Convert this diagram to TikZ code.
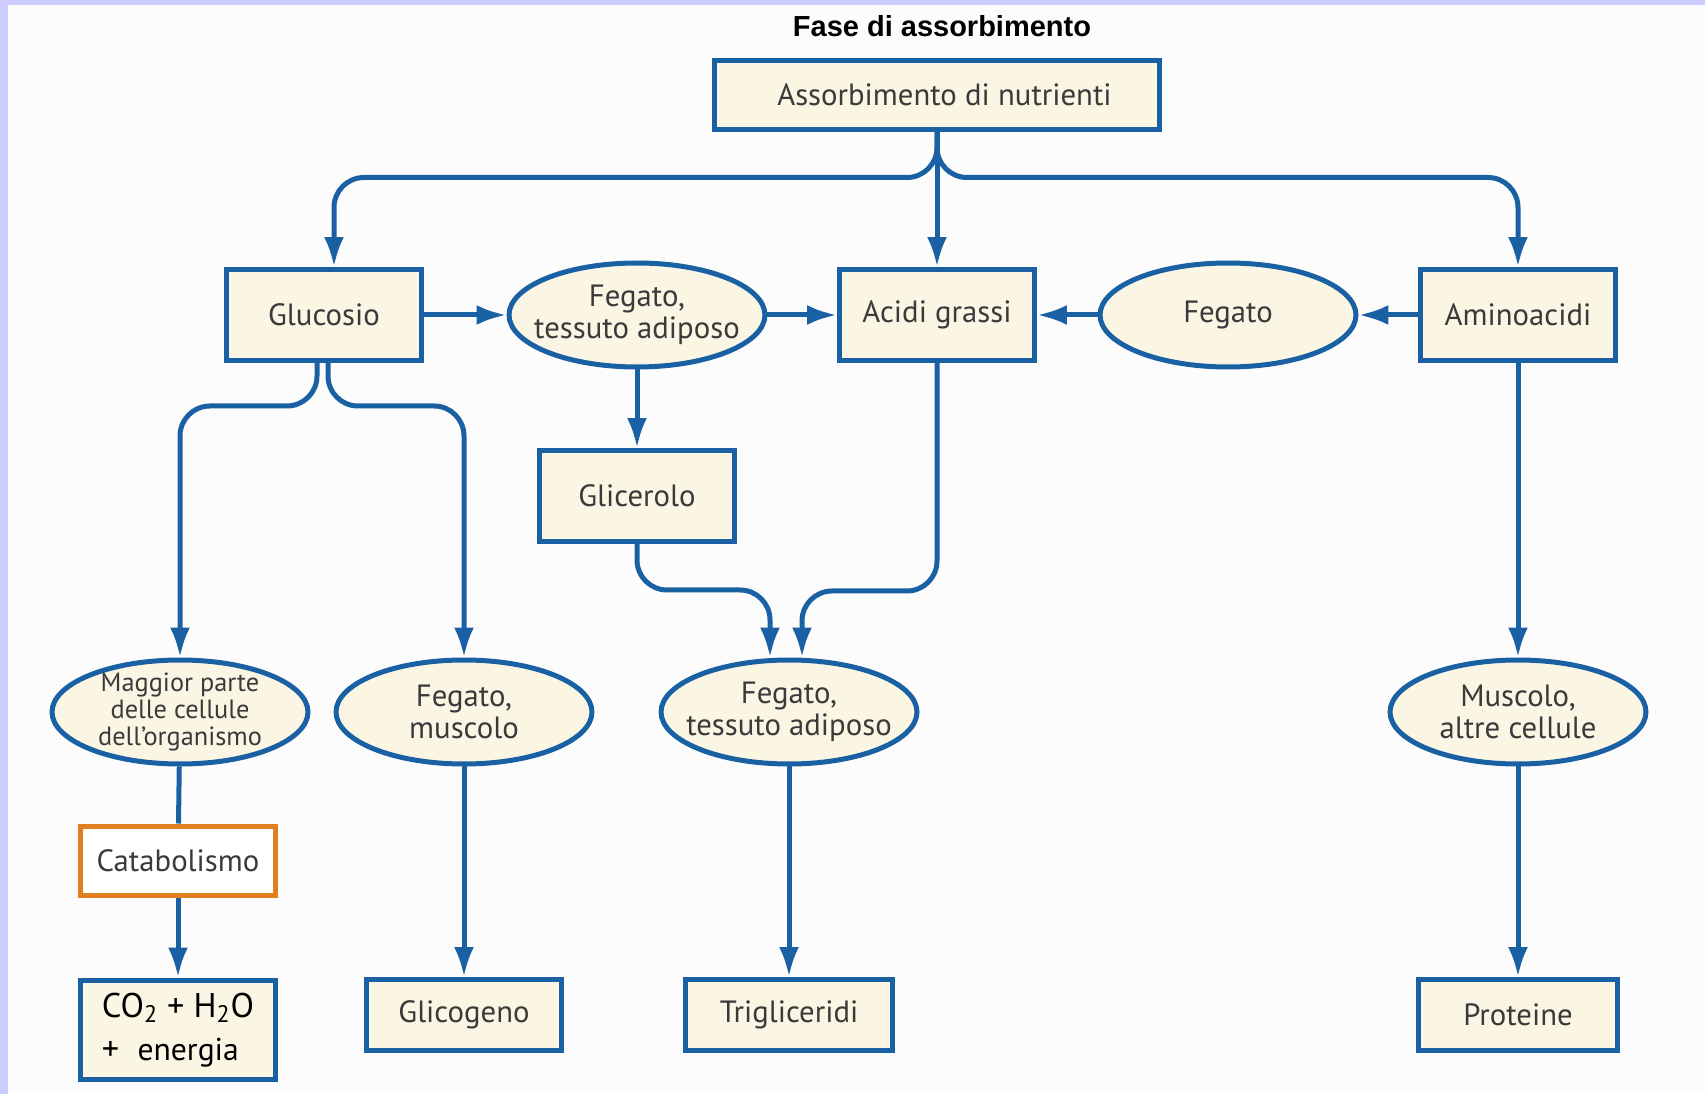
\documentclass[tikz,border=0pt]{standalone}
\usepackage{fontspec}
\setmainfont{PT Sans}
\newfontfamily\headfont{Liberation Sans}
\usetikzlibrary{arrows.meta,shapes.geometric}
\definecolor{flowBlue}{HTML}{1A61A3}
\definecolor{boxCream}{HTML}{FBF6E4}
\definecolor{catOrange}{HTML}{E07F1F}
\definecolor{frameLilac}{HTML}{CCCCFF}
\definecolor{pageWhite}{HTML}{FCFCFD}
\definecolor{labelGrey}{HTML}{3A3A3A}

\begin{document}
\begin{tikzpicture}[
  x=0.02cm, y=-0.02cm,
  font=\fontsize{17.5}{18.5}\selectfont,
  box/.style={draw=flowBlue, line width=0.1cm, fill=boxCream, text=labelGrey, inner sep=0pt, align=center, minimum width=3.9cm, minimum height=1.82cm},
  site/.style={ellipse, draw=flowBlue, line width=0.1cm, fill=boxCream, text=labelGrey, inner xsep=-0.6cm, inner ysep=-0.3cm, align=center, minimum width=5.12cm, minimum height=2.08cm},
  result/.style={box, minimum height=1.42cm},
  flow/.style={flowBlue, line width=0.1cm, rounded corners=0.6cm, -{Latex[length=0.6cm, width=0.4cm]}},
  plain/.style={flowBlue, line width=0.1cm}
]
\useasboundingbox (0,0) rectangle (1705,1094);
\fill[frameLilac] (0,0) rectangle (1705,1094);
\fill[pageWhite] (8,5) rectangle (1705,1094);

\node[font=\headfont\bfseries\fontsize{16.5}{18}\selectfont] (title) at (942,26) {Fase di assorbimento};
\node[box, minimum width=8.9cm, minimum height=1.4cm] (intake) at (937,95) {\hspace*{0.3cm}Assorbimento di nutrienti};

% second row
\node[box] (glucose) at (324,315) {Glucosio};
\node[site] (liverFatA) at (637,315) {Fegato,\\tessuto adiposo};
\node[box] (fatty) at (937,315) {Acidi grassi};
\node[site] (liver) at (1228,315) {Fegato};
\node[box] (amino) at (1518,315) {Aminoacidi};
\node[box] (glycerol) at (637,496) {Glicerolo};

% third row
\node[site, font=\fontsize{15}{15.5}\selectfont] (cells) at (180,712) {Maggior parte\\delle cellule\\dell'organismo};
\node[site] (liverMuscle) at (464,712) {Fegato,\\muscolo};
\node[site] (liverFatB) at (789,712) {Fegato,\\tessuto adiposo};
\node[site] (muscle) at (1518,712) {Muscolo,\\altre cellule};

% end products
\node[box, draw=catOrange, fill=white, minimum width=3.92cm, minimum height=1.4cm] (catab) at (178,861) {Catabolismo};
\node[box, align=left, minimum width=3.92cm, minimum height=2.0cm, font=\fontsize{19.5}{24.5}\selectfont, text=black] (water) at (178,1030) {CO\textsubscript{2} + H\textsubscript{2}O\\+\ \ {\fontsize{18}{24.5}\selectfont energia}};
\node[result] (glycogen) at (464,1015) {Glicogeno};
\node[result, minimum width=4.16cm] (trig) at (789,1015) {Trigliceridi};
\node[result, minimum width=4cm] (proteins) at (1518,1015) {Proteine};

\draw[flow] (intake.south) -- ++(0,45) -| ([xshift=0.2cm]glucose.north);
\draw[flow] (intake.south) -- ++(0,45) -| (amino.north);
\draw[flow] (intake.south) -- (fatty.north);

\draw[flow] (glucose) -- (liverFatA);
\draw[flow] (liverFatA) -- (fatty);
\draw[flow] (amino) -- (liver);
\draw[flow] (liver) -- (fatty);
\draw[flow] (liverFatA) -- (glycerol);

\draw[flow] ([xshift=-0.14cm]glucose.south) -- ++(0,43) -| (cells.north);
\draw[flow] ([xshift=0.08cm]glucose.south) -- ++(0,43) -| (liverMuscle.north);
\draw[flow] (glycerol.south) -- ++(0,46) -| ([xshift=-0.38cm]liverFatB.north);
\draw[flow] (fatty.south) -- ++(0,228) -| ([xshift=0.26cm]liverFatB.north);
\draw[flow] (amino) -- (muscle);

\draw[plain] (cells) -- (catab);
\draw[flow] (catab) -- (water);
\draw[flow] (liverMuscle) -- (glycogen);
\draw[flow] (liverFatB) -- (trig);
\draw[flow] (muscle) -- (proteins);
\end{tikzpicture}
\end{document}
